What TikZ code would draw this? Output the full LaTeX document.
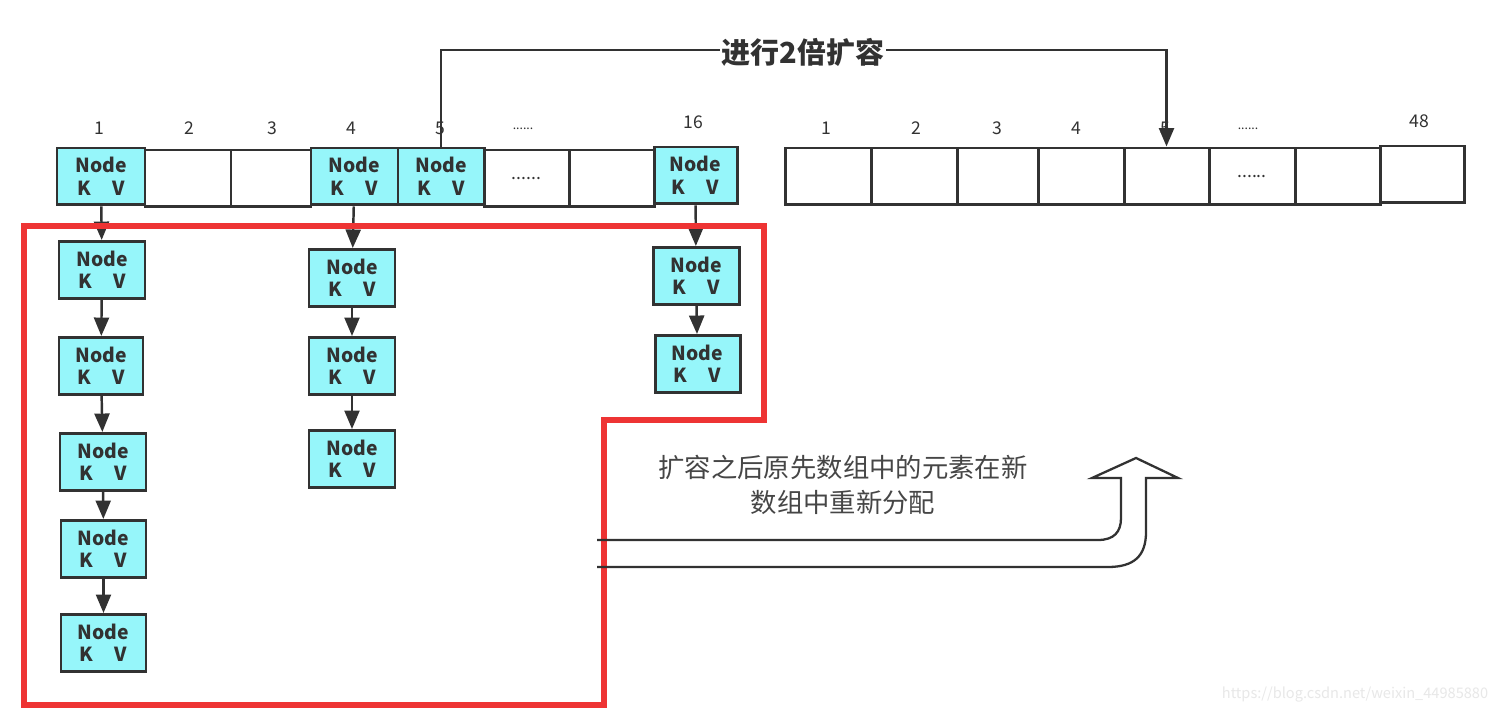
\documentclass[tikz,border=0pt]{standalone}
\usepackage{fontspec}
\setmainfont{Noto Sans CJK SC}
\usetikzlibrary{arrows.meta}
\definecolor{cyanfill}{RGB}{150,246,250}
\definecolor{dk}{RGB}{50,50,50}
\definecolor{redline}{RGB}{238,52,52}
\definecolor{txtgray}{RGB}{70,70,70}
\definecolor{wm}{RGB}{232,232,232}
\tikzset{
  cellbox/.style={draw=dk, line width=1.7pt, minimum height=1.14cm, inner sep=0pt, fill=white},
  kvbox/.style={cellbox, fill=cyanfill, align=center, font=\fontsize{11}{12.8}\selectfont\bfseries, text=dk},
  idx/.style={font=\fontsize{10}{11}\selectfont, text=dk},
  arr/.style={draw=dk, line width=1.4pt, -{Triangle[length=10.5pt,width=8.5pt]}},
  cw/.style={minimum width=#1*0.02cm}
}
\newcommand{\kv}{Node\\K\hspace{1.1em}V}
\begin{document}
\begin{tikzpicture}[x=0.02cm,y=-0.02cm]
\useasboundingbox (0,0) rectangle (1500,715);
\fill[white] (0,0) rectangle (1500,715);
% left array
\node[kvbox,cw=88] (c1) at (101,176.5) {\kv};
\node[cellbox,cw=86] (c2) at (188,178.5) {};
\node[cellbox,cw=80] (c3) at (271,178.5) {};
\node[kvbox,cw=87] (c4) at (354.5,176.5) {\kv};
\node[kvbox,cw=86] (c5) at (441,176.5) {\kv};
\node[cellbox,cw=85,font=\fontsize{10}{11}\selectfont,text=dk] (c6) at (526.5,178.5) {......};
\node[cellbox,cw=85] (c7) at (611.5,178.5) {};
\node[kvbox,cw=83] (c16) at (695.5,175.5) {\kv};
% labels
\node[idx] (l1) at (99,128) {1};
\node[idx] (l2) at (189,128) {2};
\node[idx] (l3) at (272,128) {3};
\node[idx] (l4) at (351,128) {4};
\node[idx] (l5) at (440,128) {5};
\node[idx,font=\fontsize{7}{8}\selectfont] (l6) at (523,129) {......};
\node[idx] (l16) at (693,122) {16};
% right array
\node[cellbox,cw=86] (r1) at (828,176.5) {};
\node[cellbox,cw=86] (r2) at (914,176.5) {};
\node[cellbox,cw=81] (r3) at (997.5,176.5) {};
\node[cellbox,cw=86] (r4) at (1081,176.5) {};
\node[cellbox,cw=85] (r5) at (1166.5,176.5) {};
\node[cellbox,cw=86,font=\fontsize{10}{11}\selectfont,text=dk] (r6) at (1252,176.5) {......};
\node[cellbox,cw=85] (r7) at (1337.5,176.5) {};
\node[cellbox,cw=84] (r8) at (1422,174.5) {};
\node[idx] (s1) at (826,128) {1};
\node[idx] (s2) at (916,128) {2};
\node[idx] (s3) at (997,128) {3};
\node[idx] (s4) at (1076,128) {4};
\node[idx] (s5) at (1165,128) {5};
\node[idx,font=\fontsize{7}{8}\selectfont] (s6) at (1248,129) {......};
\node[idx] (s48) at (1419,121) {48};
% chains
\node[kvbox,cw=86] (a1) at (102,270) {\kv};
\node[kvbox,cw=84] (a2) at (101,366) {\kv};
\node[kvbox,cw=86] (a3) at (103,462) {\kv};
\node[kvbox,cw=85] (a4) at (103.5,549) {\kv};
\node[kvbox,cw=85] (a5) at (103.5,643) {\kv};
\node[kvbox,cw=86] (b1) at (352,278) {\kv};
\node[kvbox,cw=86] (b2) at (352,366) {\kv};
\node[kvbox,cw=86] (b3) at (352,459) {\kv};
\node[kvbox,cw=86] (d1) at (696,276) {\kv};
\node[kvbox,cw=85] (d2) at (697.5,364) {\kv};
\draw[arr] (c1) -- (a1);
\draw[arr] (a1) -- (a2);
\draw[arr] (a2) -- (a3);
\draw[arr] (a3) -- (a4);
\draw[arr] (a4) -- (a5);
\draw[arr] (c4) -- (b1);
\draw[arr] (b1) -- (b2);
\draw[arr] (b2) -- (b3);
\draw[arr] (c16) -- (d1);
\draw[arr] (d1) -- (d2);
% expansion arrow
\coordinate (tp) at (803,50);
\draw[arr] (c5.north) |- (tp) -| (r5.north);
\node[fill=white, inner sep=1pt, font=\fontsize{16.5}{18}\selectfont\bfseries, text=dk] (title) at (803,52) {进行2倍扩容};
% red outline
\draw[redline, line width=3.4pt, line join=miter] (24,226) -- (764,226) -- (764,420) -- (604,420) -- (604,705) -- (24,705) -- cycle;
% hollow arrow
\draw[dk, line width=1.3pt, line join=miter] (597,540) -- (1098,540) .. controls (1114,540) and (1121,532) .. (1121,518) -- (1121,478) -- (1092,478) -- (1136,458) -- (1178,478) -- (1146,478) -- (1146,532) .. controls (1146,556) and (1134,567) .. (1108,567) -- (597,567);
\node[align=center, text=txtgray, font=\fontsize{15}{19.5}\selectfont] (note) at (843,485) {扩容之后原先数组中的元素在新\\数组中重新分配};
\node[text=wm, font=\fontsize{8.3}{9}\selectfont] (wmk) at (1355,695) {https://blog.csdn.net/weixin\_44985880};
\end{tikzpicture}
\end{document}
